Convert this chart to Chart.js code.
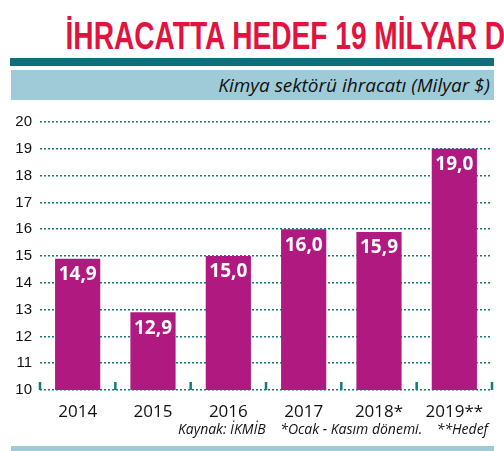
<!DOCTYPE html>
<html><head><meta charset="utf-8">
<script src="https://cdn.jsdelivr.net/npm/chart.js@4"></script>
<style>
body{margin:0;width:504px;height:451px;background:#fff;position:relative;overflow:hidden;font-family:"Open Sans","DejaVu Sans",sans-serif}
#title{position:absolute;left:0;top:14px;width:504px;text-align:center;white-space:nowrap;font-family:"Liberation Sans","DejaVu Sans",sans-serif;font-weight:bold;font-size:38px;color:#e0143f;line-height:44px;transform:scaleX(0.74);transform-origin:252px 0}
#rule{position:absolute;left:10px;top:58px;width:484px;height:8px;background:#0f6d7c}
#band{position:absolute;left:11px;top:70px;width:483px;height:30px;background:#9fcbd8}
#sub{position:absolute;right:14px;top:72px;font-style:italic;font-size:19px;color:#111}
#foot{position:absolute;right:16px;top:419px;font-style:italic;font-size:14px;color:#111;white-space:pre}
#bot{position:absolute;left:11px;top:446px;width:483px;height:5px;background:#9fcbd8}
#wrap{position:absolute;left:0;top:105px;width:504px;height:315px}
</style></head><body>
<div id="title">İHRACATTA HEDEF 19 MİLYAR DOLAR</div>
<div id="rule"></div><div id="band"></div>
<div id="sub">Kimya sektörü ihracatı (Milyar $)</div>
<div id="wrap"><canvas id="c" width="504" height="315"></canvas></div>
<div id="foot">Kaynak: İKMİB    *Ocak - Kasım dönemi.    **Hedef</div>
<div id="bot"></div>
<script>
const categories=["2014","2015","2016","2017","2018*","2019**"];
const values=[14.9,12.9,15.0,16.0,15.9,19.0];
const labels=["14,9","12,9","15,0","16,0","15,9","19,0"];
const yTicks=[10,11,12,13,14,15,16,17,18,19,20];
const teal="#127a80";
const extras={id:"extras",afterDatasetsDraw(ch){
  const ctx=ch.ctx,xs=ch.scales.x,ys=ch.scales.y,meta=ch.getDatasetMeta(0);
  ctx.save();
  ctx.strokeStyle=teal;ctx.lineWidth=2.5;
  const base=ys.getPixelForValue(10);
  for(let i=0;i<=categories.length;i++){
    let x=i<categories.length?xs.getPixelForValue(i)-xs.width/categories.length/2:xs.right;
    ctx.beginPath();ctx.moveTo(x,base);ctx.lineTo(x,base-8);ctx.stroke();
  }
  ctx.fillStyle="#fff";ctx.font="bold 19px 'Open Sans',sans-serif";ctx.textAlign="center";ctx.textBaseline="middle";
  meta.data.forEach((b,i)=>ctx.fillText(labels[i],b.x,b.y+16));
  ctx.restore();
}};
new Chart(document.getElementById("c"),{
  type:"bar",
  data:{labels:categories,datasets:[{data:values,backgroundColor:"#b0197f",barPercentage:0.6,categoryPercentage:1}]},
  options:{responsive:false,animation:false,
    layout:{padding:{top:12,right:12,left:0,bottom:0}},
    plugins:{legend:{display:false},tooltip:{enabled:false}},
    scales:{
      y:{min:10,max:20,afterBuildTicks(s){s.ticks=yTicks.map(v=>({value:v}));},
        afterFit(s){s.width=40;},
        border:{display:false,dash:[2,2]},
        grid:{color:teal,lineWidth:1.5,drawTicks:false},
        ticks:{padding:8,color:"#111",font:{family:"'Liberation Sans','DejaVu Sans',sans-serif",size:15}}},
      x:{afterFit(s){s.height=30;},border:{display:false},grid:{display:false},
        ticks:{padding:4,color:"#111",font:{family:"'Open Sans',sans-serif",size:17}}}
    }},
  plugins:[extras]
});
</script>
</body></html>
